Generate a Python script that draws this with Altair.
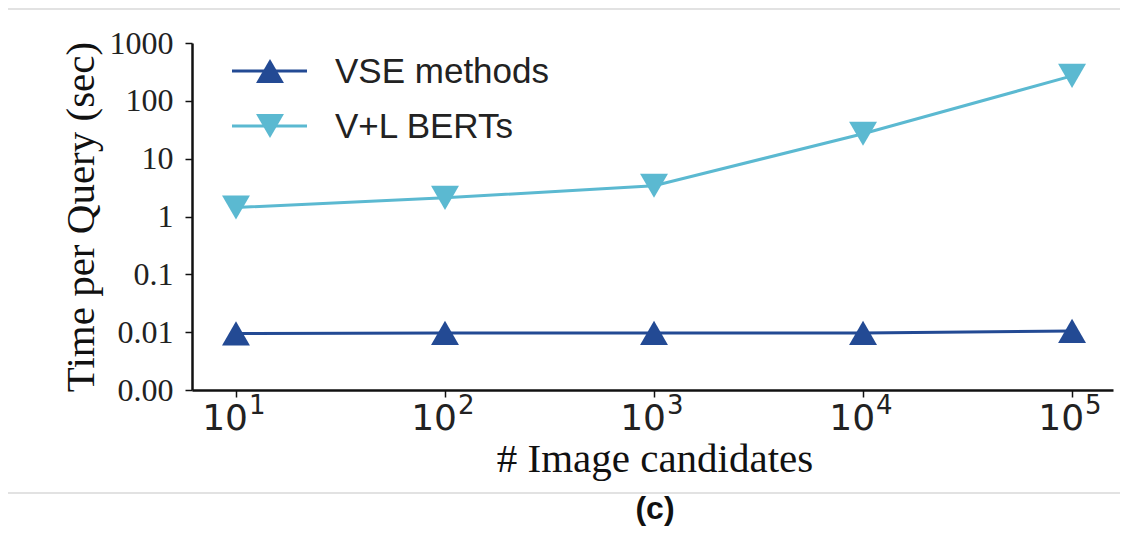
import altair as alt
import pandas as pd

# ---- data ----
candidates = [10, 100, 1000, 10000, 100000]
vse_times = [0.0095, 0.0097, 0.0097, 0.0097, 0.0105]
vl_times = [1.43, 2.1, 3.4, 27, 270]
series_names = ["VSE methods", "V+L BERTs"]
series_colors = ["#234a94", "#5bb9d1"]
series_shapes = ["triangle-up", "triangle-down"]

y_ticks = [0.001, 0.01, 0.1, 1, 10, 100, 1000]
y_tick_labels = ["0.00", "0.01", "0.1", "1", "10", "100", "1000"]
x_tick_base = ["10", "10", "10", "10", "10"]
x_tick_exp = ["1", "2", "3", "4", "5"]
x_title = "# Image candidates"
y_title = "Time per Query (sec)"
caption = "(c)"

rows = []
for name, vals in zip(series_names, [vse_times, vl_times]):
    for c, v in zip(candidates, vals):
        rows.append({"series": name, "candidates": c, "time": v})
df = pd.DataFrame(rows)
ticks_df = pd.DataFrame({"candidates": candidates, "base": x_tick_base, "exp": x_tick_exp})

W, H = 921, 347

y_expr = "[" + ",".join("'%s'" % s for s in y_tick_labels) + "][round(log(datum.value)/LN10)+3]"

xscale = alt.Scale(type="log", domain=[6.16, 157000], nice=False)
yscale = alt.Scale(type="log", domain=[0.001, 1000], nice=False)
color = alt.Color("series:N", scale=alt.Scale(domain=series_names, range=series_colors), legend=None)
shape = alt.Shape("series:N", scale=alt.Scale(domain=series_names, range=series_shapes), legend=None)

x_enc = alt.X("candidates:Q", scale=xscale, axis=alt.Axis(
    values=candidates, labels=False, grid=False, title=None,
    domainColor="#111", domainWidth=2.5, tickColor="#111", tickWidth=1.5, tickSize=7))
y_enc = alt.Y("time:Q", scale=yscale, axis=alt.Axis(
    values=y_ticks, labelExpr=y_expr, grid=False, title=None,
    labelFont="Liberation Serif", labelFontSize=32, labelColor="#222", labelPadding=12,
    domainColor="#111", domainWidth=2.5, tickColor="#111", tickWidth=1.5, tickSize=7))

lines = alt.Chart(df).mark_line(strokeWidth=3).encode(x=x_enc, y=y_enc, color=color, detail="series:N")
points = alt.Chart(df).mark_point(filled=True, size=780, opacity=1).encode(
    x=alt.X("candidates:Q", scale=xscale), y=alt.Y("time:Q", scale=yscale), color=color, shape=shape)

# x tick labels drawn as base + superscript exponent
xlab_base = alt.Chart(ticks_df).mark_text(font="DejaVu Sans", fontSize=36, align="right",
    baseline="alphabetic", dx=12, color="#222").encode(
    x=alt.X("candidates:Q", scale=xscale), y=alt.value(387), text="base:N")
xlab_exp = alt.Chart(ticks_df).mark_text(font="DejaVu Sans", fontSize=26, align="left",
    baseline="alphabetic", dx=13, color="#222").encode(
    x=alt.X("candidates:Q", scale=xscale), y=alt.value(371), text="exp:N")

layers = [lines, points, xlab_base, xlab_exp]

one = df.head(1)
# axis titles
layers.append(alt.Chart(one).mark_text(text=x_title, font="Liberation Serif", fontSize=41,
    align="center", baseline="middle", color="#111").encode(x=alt.value(463), y=alt.value(417)))
layers.append(alt.Chart(one).mark_text(text=y_title, font="Liberation Serif", fontSize=41,
    align="center", baseline="middle", angle=270, color="#111").encode(x=alt.value(-110), y=alt.value(174)))

# ---- manual legend ----
leg_y = [28, 83]
for i, name in enumerate(series_names):
    layers.append(alt.Chart(one).mark_rule(strokeWidth=3, color=series_colors[i]).encode(
        x=alt.value(40), x2=alt.value(115), y=alt.value(leg_y[i])))
    layers.append(alt.Chart(one).mark_point(filled=True, size=780, opacity=1,
        color=series_colors[i], shape=series_shapes[i]).encode(x=alt.value(78), y=alt.value(leg_y[i])))
    layers.append(alt.Chart(one).mark_text(text=name, font="Liberation Sans", fontSize=35,
        align="left", baseline="middle", color="#222").encode(x=alt.value(143), y=alt.value(leg_y[i] + 1)))

# ---- page decorations: gray separators and caption ----
for yy in [-34, 450]:
    layers.append(alt.Chart(one).mark_rule(strokeWidth=1.5, color="#d9d9d9", clip=False).encode(
        x=alt.value(-192), x2=alt.value(936), y=alt.value(yy)))
layers.append(alt.Chart(one).mark_text(text=caption, font="Liberation Sans", fontSize=32,
    fontWeight="bold", align="center", baseline="middle", color="#111").encode(
    x=alt.value(463), y=alt.value(466)))

chart = alt.layer(*layers).properties(
    width=W, height=H,
    autosize=alt.AutoSizeParams(type="none"),
    padding={"left": 184, "top": 35, "right": 7, "bottom": 140},
).configure_view(strokeWidth=0)

chart.save("out.html", embed_options={"renderer": "svg", "actions": False})
